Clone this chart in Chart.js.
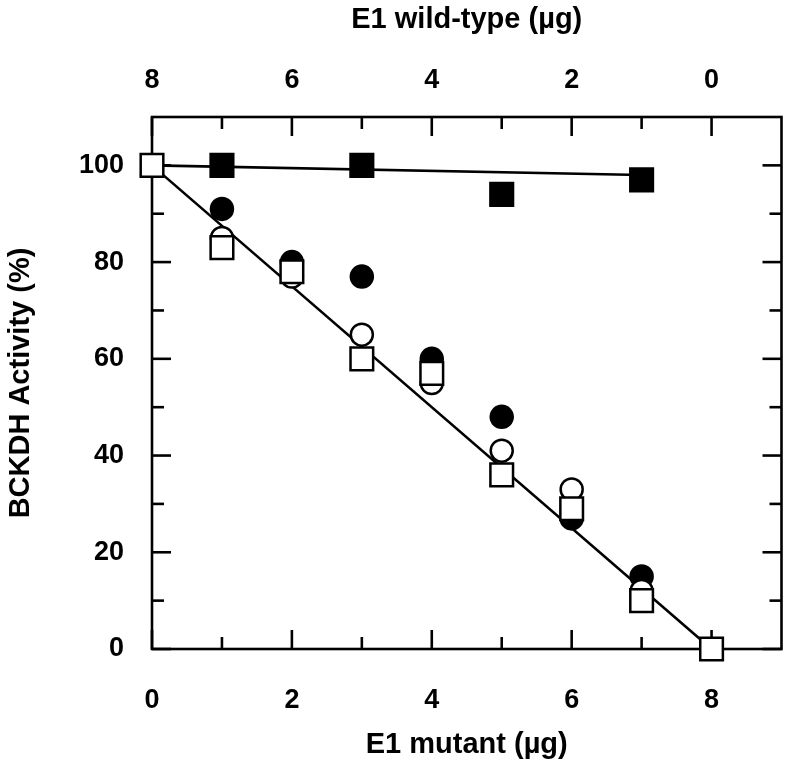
<!DOCTYPE html>
<html>
<head>
<meta charset="utf-8">
<script src="https://cdn.jsdelivr.net/npm/chart.js@4.4.1/dist/chart.umd.min.js"></script>
<style>
  body { margin: 0; background: #fff; }
  canvas { display: block; }
</style>
</head>
<body>
<canvas id="c" width="800" height="768"></canvas>
<script>
// ---- data ----
const mutantX = [0, 1, 2, 3, 4, 5, 6, 7, 8];
const openSquares   = [100, 83, 78, 60, 57, 36, 29, 10, 0];
const openCircles   = [null, 85, 77, 65, 55, 41, 33, 12, null];
const filledCircles = [null, 91, 80, 77, 60, 48, 27, 15, null];
const filledSqX = [1, 3, 5, 7];
const filledSquares = [100, 100, 94, 97];
const flatFitX = [0, 7];
const flatFit = [100, 98];
const dropFitX = [0, 8];
const dropFit = [100, 0];

const bottomTicks = [0, 2, 4, 6, 8];
const topTicks = [0, 2, 4, 6, 8];
const yTicks = [0, 20, 40, 60, 80, 100];
const xMinor = [1, 3, 5, 7];
const yMinor = [10, 30, 50, 70, 90];

const FONT = 'Liberation Sans, Arial, sans-serif';

const pts = (xs, ys) => xs.map((x, i) => ({ x, y: ys[i] })).filter(p => p.y != null);

// frame + inward ticks on all four sides
const frame = {
  id: 'frame',
  beforeDatasetsDraw(chart) {
    const { ctx, chartArea: a, scales } = chart;
    ctx.save();
    ctx.strokeStyle = '#000';
    ctx.lineWidth = 2.6;
    ctx.strokeRect(a.left, a.top, a.right - a.left, a.bottom - a.top);
    const tick = (x1, y1, x2, y2) => { ctx.beginPath(); ctx.moveTo(x1, y1); ctx.lineTo(x2, y2); ctx.stroke(); };
    const MAJ = 19, MIN = 12;
    bottomTicks.forEach(v => { const p = scales.x.getPixelForValue(v); tick(p, a.bottom, p, a.bottom - MAJ); });
    xMinor.forEach(v => { const p = scales.x.getPixelForValue(v); tick(p, a.bottom, p, a.bottom - MIN); });
    topTicks.forEach(v => { const p = scales.x2.getPixelForValue(v); tick(p, a.top, p, a.top + MAJ); });
    xMinor.forEach(v => { const p = scales.x2.getPixelForValue(v); tick(p, a.top, p, a.top + MIN); });
    yTicks.forEach(v => {
      const p = scales.y.getPixelForValue(v);
      tick(a.left, p, a.left + MAJ, p); tick(a.right, p, a.right - MAJ, p);
    });
    yMinor.forEach(v => {
      const p = scales.y.getPixelForValue(v);
      tick(a.left, p, a.left + MIN, p); tick(a.right, p, a.right - MIN, p);
    });
    ctx.restore();
  }
};

const marker = (style, fill, r) => ({
  pointStyle: style, pointRadius: r, pointHoverRadius: r,
  pointBackgroundColor: fill, pointBorderColor: '#000', pointBorderWidth: 2.5,
  showLine: false, clip: false
});

const fixed = (prop, size) => s => { s[prop] = size; };
const setTicks = arr => s => { s.ticks = arr.map(v => ({ value: v })); };

new Chart(document.getElementById('c'), {
  type: 'scatter',
  data: {
    datasets: [
      { label: 'open squares', data: pts(mutantX, openSquares), ...marker('rect', '#fff', 16) },
      { label: 'open circles', data: pts(mutantX, openCircles), ...marker('circle', '#fff', 11) },
      { label: 'filled circles', data: pts(mutantX, filledCircles), ...marker('circle', '#000', 11) },
      { label: 'filled squares', data: pts(filledSqX, filledSquares), ...marker('rect', '#000', 16) },
      { label: 'fit flat', data: pts(flatFitX, flatFit), showLine: true, pointRadius: 0, borderColor: '#000', borderWidth: 2.6, clip: false },
      { label: 'fit drop', data: pts(dropFitX, dropFit), showLine: true, pointRadius: 0, borderColor: '#000', borderWidth: 2.6, clip: false }
    ]
  },
  options: {
    responsive: false,
    animation: false,
    layout: { padding: { right: 12 } },
    plugins: { legend: { display: false }, tooltip: { enabled: false } },
    scales: {
      x: {
        type: 'linear', position: 'bottom', min: 0, max: 9,
        afterBuildTicks: setTicks(bottomTicks), afterFit: fixed('height', 119),
        grid: { display: false, drawTicks: false }, border: { display: false },
        ticks: { color: '#000', padding: 35, font: { family: FONT, size: 27, weight: 'bold' } },
        title: { display: true, text: 'E1 mutant (µg)', color: '#000', padding: { top: 6, bottom: 6 },
                 font: { family: FONT, size: 29, weight: 'bold' } }
      },
      x2: {
        type: 'linear', position: 'top', min: -1, max: 8, reverse: true,
        afterBuildTicks: setTicks(topTicks), afterFit: fixed('height', 117),
        grid: { display: false, drawTicks: false }, border: { display: false },
        ticks: { color: '#000', padding: 20, font: { family: FONT, size: 27, weight: 'bold' } },
        title: { display: true, text: 'E1 wild-type (µg)', color: '#000', padding: { top: 3, bottom: 3 },
                 font: { family: FONT, size: 29, weight: 'bold' } }
      },
      y: {
        type: 'linear', position: 'left', min: 0, max: 110,
        afterBuildTicks: setTicks(yTicks), afterFit: fixed('width', 152),
        grid: { display: false, drawTicks: false }, border: { display: false },
        ticks: { color: '#000', padding: 28, font: { family: FONT, size: 27, weight: 'bold' } },
        title: { display: true, text: 'BCKDH Activity (%)', color: '#000', padding: { top: 4, bottom: 4 },
                 font: { family: FONT, size: 29, weight: 'bold' } }
      }
    }
  },
  plugins: [frame]
});
</script>
</body>
</html>
